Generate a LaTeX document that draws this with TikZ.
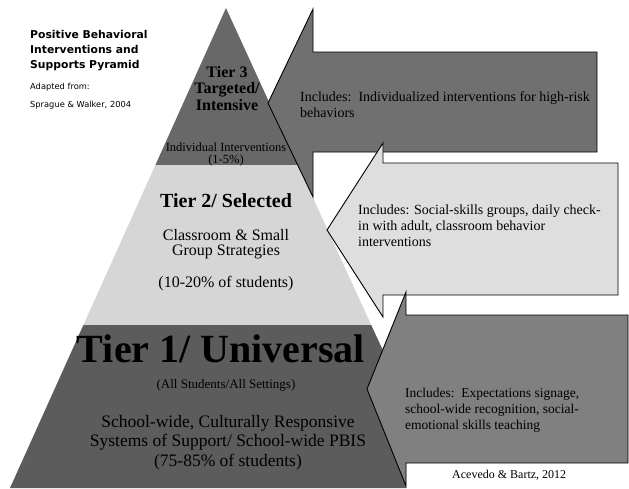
\documentclass[tikz,border=0pt]{standalone}
\usepackage{fontspec}
\setmainfont{Liberation Serif}
\newfontfamily\headfont{DejaVu Sans}
\definecolor{tierdark}{RGB}{104, 104, 104}
\definecolor{tierlight}{RGB}{214, 214, 214}
\definecolor{tierbase}{RGB}{92, 92, 92}
\definecolor{arrowdark}{RGB}{112, 112, 112}
\definecolor{arrowlight}{RGB}{222, 222, 222}
\definecolor{arrowbase}{RGB}{128, 128, 128}

\begin{document}
\begin{tikzpicture}[x=1pt, y=-1pt,
  tierarrow/.style={draw=black, line width=0.9pt, line join=miter},
  pyrtext/.style={inner sep=0pt, align=center},
  arrowtext/.style={inner sep=0pt, align=left, anchor=north west, font=\fontsize{14}{16}\selectfont}]
  \useasboundingbox (0,0) rectangle (629,488);

  % Pyramid, three tiers
  \fill[tierdark] (226,8) -- (155.4,165) -- (297.9,165) -- cycle;
  \fill[tierlight] (155.4,165) -- (297.9,165) -- (371.2,325) -- (83.4,325) -- cycle;
  \fill[tierbase] (83.4,325) -- (371.2,325) -- (406,400) -- (406,488) -- (10,488) -- cycle;

  % Block arrows pointing at the tiers
  \filldraw[tierarrow, fill=arrowdark] (268,103) -- (313,9) -- (313,52) -- (597,52) -- (597,152) -- (313,152) -- (313,197) -- cycle;
  \filldraw[tierarrow, fill=arrowlight] (327,230) -- (383,143) -- (383,163) -- (618,163) -- (618,295) -- (383,295) -- (383,317) -- cycle;
  \filldraw[tierarrow, fill=arrowbase] (367,389) -- (406,292) -- (406,315) -- (628,315) -- (628,463) -- (406,463) -- (406,486) -- cycle;

  % Title top left
  \node[inner sep=0pt, anchor=north west, align=left, font=\headfont\bfseries\fontsize{10.8}{15}\selectfont] (title) at (30,29.8) {Positive Behavioral\\Interventions and\\Supports Pyramid};
  \node[inner sep=0pt, anchor=north west, align=left, font=\headfont\fontsize{8.3}{18}\selectfont] (source) at (30,82.7) {Adapted from:\\Sprague \& Walker, 2004};

  % Tier 3
  \node[pyrtext, anchor=north, font=\bfseries\fontsize{16}{16.5}\selectfont] (tierthree) at (227,66) {Tier 3\\Targeted/\\Intensive};
  \node[pyrtext, anchor=north, font=\fontsize{12.5}{12}\selectfont] (tierthreesub) at (226,142.5) {Individual Interventions\\(1-5\%)};

  % Tier 2
  \node[pyrtext, anchor=north, font=\bfseries\fontsize{20}{22}\selectfont] (tiertwo) at (226,193.4) {Tier 2/ Selected};
  \node[pyrtext, anchor=north, font=\fontsize{16}{15.5}\selectfont] (tiertwosub) at (226,229) {Classroom \& Small\\Group Strategies};
  \node[pyrtext, anchor=base, font=\fontsize{16}{16}\selectfont] (tiertwopct) at (226,287) {(10-20\% of students)};

  % Tier 1
  \node[pyrtext, anchor=base, font=\bfseries\fontsize{40}{42}\selectfont] (tierone) at (221,362) {Tier 1/ Universal};
  \node[pyrtext, anchor=base, font=\fontsize{13}{14}\selectfont] (tieroneall) at (226,388) {(All Students/All Settings)};
  \node[pyrtext, anchor=north, font=\fontsize{17.5}{19.5}\selectfont] (tieronesub) at (228,415) {School-wide, Culturally Responsive\\Systems of Support/ School-wide PBIS\\(75-85\% of students)};

  % Arrow texts
  \node[arrowtext] (incthree) at (300,91.4) {Includes:\ \ Individualized interventions for high-risk\\behaviors};
  \node[arrowtext] (inctwo) at (358,204.4) {Includes: Social-skills groups, daily check-\\in with adult, classroom behavior\\interventions};
  \node[arrowtext, font=\fontsize{13.5}{16}\selectfont] (incone) at (405,388) {Includes:\ \ Expectations signage,\\school-wide recognition, social-\\emotional skills teaching};

  % Credit
  \node[inner sep=0pt, anchor=base west, font=\fontsize{12}{14}\selectfont] (credit) at (452,478) {Acevedo \& Bartz, 2012};
\end{tikzpicture}
\end{document}
